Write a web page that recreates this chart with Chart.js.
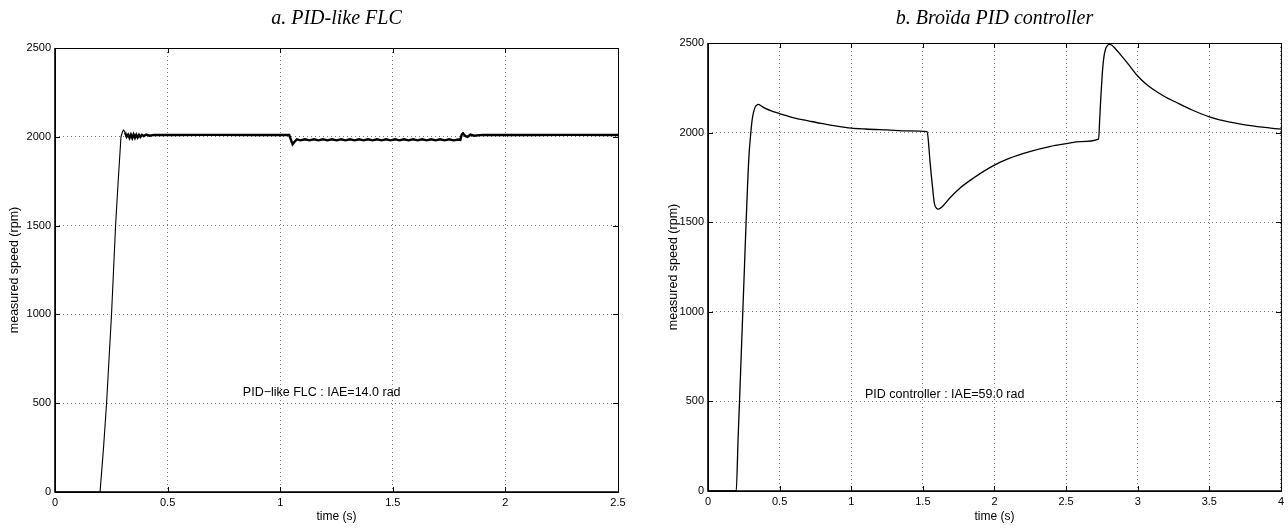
<!DOCTYPE html>
<html>
<head>
<meta charset="utf-8">
<script src="https://cdn.jsdelivr.net/npm/chart.js@4.4.1/dist/chart.umd.min.js"></script>
<style>
  html, body { margin: 0; padding: 0; background: #fff; }
  #chartA { position: absolute; left: 0; top: 0; }
  #chartB { position: absolute; left: 640px; top: 0; }
</style>
</head>
<body>
<canvas id="chartA" width="640" height="528"></canvas>
<canvas id="chartB" width="648" height="528"></canvas>
<script>
// a. PID-like FLC
const timeA = [0, 0.2, 0.215, 0.229, 0.24, 0.251, 0.26, 0.269, 0.281, 0.293, 0.3, 0.305, 0.311,
  0.318, 0.325, 0.331, 0.337, 0.343, 0.349, 0.355, 0.361, 0.367, 0.373, 0.379, 0.386, 0.394, 0.405,
  0.42, 0.44, 0.5, 0.7, 0.9, 1.04, 1.047, 1.055, 1.064, 1.074,
  1.09, 1.11, 1.13, 1.15, 1.17, 1.19, 1.21, 1.23, 1.25, 1.27, 1.29, 1.31, 1.33, 1.35, 1.37, 1.39,
  1.41, 1.43, 1.45, 1.47, 1.49, 1.51, 1.53, 1.55, 1.57, 1.59, 1.61, 1.63, 1.65, 1.67, 1.69, 1.71,
  1.73, 1.75, 1.77, 1.79,
  1.8, 1.806, 1.812, 1.822, 1.832, 1.845, 1.86, 1.9, 2.1, 2.3, 2.5];
const speedA = [0, 0, 240, 500, 750, 1000, 1250, 1500, 1760, 2000, 2030, 2038, 2025,
  2000, 2012, 1994, 2012, 1993, 2013, 1995, 2012, 1997, 2011, 1999, 2011, 2004, 2012,
  2006, 2011, 2010, 2011, 2010, 2010, 1985, 1958, 1972, 1986,
  1980, 1986, 1980, 1986, 1980, 1986, 1980, 1986, 1980, 1986, 1980, 1986, 1980, 1986, 1980, 1986,
  1980, 1986, 1980, 1986, 1980, 1986, 1980, 1986, 1980, 1986, 1980, 1986, 1980, 1986, 1980, 1986,
  1980, 1986, 1980, 1985,
  1983, 2012, 2020, 2004, 2000, 2012, 2006, 2011, 2010, 2011, 2010];

// b. Broida PID controller
const timeB = [0, 0.197, 0.21, 0.22, 0.232, 0.243, 0.255, 0.266, 0.276, 0.286, 0.299, 0.308, 0.317,
  0.327, 0.34, 0.352, 0.37, 0.4, 0.45, 0.5, 0.6, 0.7, 0.8, 0.9, 1.0, 1.1, 1.25, 1.4, 1.53,
  1.541, 1.549, 1.558, 1.567, 1.58, 1.595, 1.607, 1.625, 1.642, 1.688, 1.758, 1.851, 1.98, 2.106,
  2.246, 2.385, 2.5, 2.6, 2.727, 2.735, 2.743, 2.752, 2.762, 2.775, 2.788, 2.8, 2.815, 2.83, 2.855,
  2.89, 2.934, 3.0, 3.06, 3.12, 3.19, 3.26, 3.38, 3.5, 3.62, 3.75, 3.87, 4.0];
const speedB = [0, 0, 290, 500, 760, 1000, 1260, 1500, 1700, 1870, 2000, 2070, 2110,
  2138, 2153, 2158, 2150, 2135, 2119, 2106, 2082, 2066, 2050, 2036, 2025, 2020, 2015, 2010, 2006,
  1930, 1848, 1770, 1700, 1607, 1578, 1573, 1580, 1592, 1635, 1690, 1745, 1810, 1857,
  1894, 1922, 1938, 1950, 1964, 2080, 2203, 2320, 2410, 2465, 2485, 2492, 2490, 2480, 2458,
  2425, 2382, 2316, 2270, 2235, 2200, 2172, 2126, 2088, 2062, 2043, 2030, 2019];

const xTicksA = [0, 0.5, 1, 1.5, 2, 2.5];
const xLabelsA = ['0', '0.5', '1', '1.5', '2', '2.5'];
const xTicksB = [0, 0.5, 1, 1.5, 2, 2.5, 3, 3.5, 4];
const xLabelsB = ['0', '0.5', '1', '1.5', '2', '2.5', '3', '3.5', '4'];
const yTicks = [0, 500, 1000, 1500, 2000, 2500];
const yLabels = ['0', '500', '1000', '1500', '2000', '2500'];

const titleA = 'a. PID-like FLC';
const titleB = 'b. Bro\u00efda PID controller';
const noteA = 'PID\u2212like FLC : IAE=14.0 rad';
const noteB = 'PID controller : IAE=59.0 rad';

// frame, inner ticks, titles, note
const framePlugin = {
  id: 'frame',
  afterDraw(chart, args, opts) {
    const ctx = chart.ctx;
    const a = chart.chartArea;
    const x = chart.scales.x, y = chart.scales.y;
    ctx.save();
    ctx.strokeStyle = '#000';
    ctx.lineWidth = 1;
    ctx.beginPath();
    x.ticks.forEach(function (t) {
      const px = Math.round(x.getPixelForValue(t.value)) + 0.5;
      ctx.moveTo(px, a.top); ctx.lineTo(px, a.top + 5);
      ctx.moveTo(px, a.bottom); ctx.lineTo(px, a.bottom - 5);
    });
    y.ticks.forEach(function (t) {
      const py = Math.round(y.getPixelForValue(t.value)) + 0.5;
      ctx.moveTo(a.left, py); ctx.lineTo(a.left + 5, py);
      ctx.moveTo(a.right, py); ctx.lineTo(a.right - 5, py);
    });
    ctx.stroke();
    ctx.strokeRect(a.left + 0.5, a.top + 0.5, a.right - a.left, a.bottom - a.top);
    ctx.lineWidth = 1.6;
    ctx.beginPath();
    ctx.moveTo(a.left, a.top); ctx.lineTo(a.left, a.bottom); ctx.lineTo(a.right, a.bottom);
    ctx.stroke();

    ctx.fillStyle = '#000';
    ctx.font = 'italic 20px "Liberation Serif"';
    ctx.textAlign = 'center';
    ctx.textBaseline = 'middle';
    ctx.fillText(opts.title, (a.left + a.right) / 2, 19);

    ctx.font = '12.5px "Liberation Sans"';
    ctx.textAlign = 'left';
    ctx.fillText(opts.note, x.getPixelForValue(opts.noteAt[0]), y.getPixelForValue(opts.noteAt[1]));
    ctx.restore();
  }
};

function makeChart(id, times, speeds, xTicks, xLabels, xMax, box, opts, lineWidth, smooth) {
  const points = times.map(function (t, i) { return { x: t, y: speeds[i] }; });
  const ds = {
    data: points,
    borderColor: '#000',
    borderWidth: 1.2,
    pointRadius: 0,
    tension: 0,
    segment: { borderWidth: lineWidth }
  };
  if (smooth) ds.cubicInterpolationMode = 'monotone';
  return new Chart(document.getElementById(id), {
    type: 'line',
    data: { datasets: [ds] },
    options: {
      responsive: false,
      animation: false,
      events: [],
      layout: { padding: { top: box.top, right: box.right, left: 0, bottom: 0 } },
      plugins: {
        legend: { display: false },
        tooltip: { enabled: false },
        frame: opts
      },
      scales: {
        x: {
          type: 'linear',
          min: 0,
          max: xMax,
          afterBuildTicks: function (s) { s.ticks = xTicks.map(function (v) { return { value: v }; }); },
          afterFit: function (s) { s.height = box.xHeight; },
          grid: { color: '#777', lineWidth: 1, drawTicks: false },
          border: { display: false, dash: [1, 3] },
          ticks: {
            color: '#000', font: { family: 'Liberation Sans', size: 11 }, padding: 4, maxRotation: 0, autoSkip: false,
            callback: function (v, i) { return xLabels[i]; }
          },
          title: { display: true, text: 'time (s)', color: '#000', font: { family: 'Liberation Sans', size: 12 }, padding: { top: 0, bottom: 3.8 } }
        },
        y: {
          type: 'linear',
          min: 0,
          max: 2500,
          afterBuildTicks: function (s) { s.ticks = yTicks.map(function (v) { return { value: v }; }); },
          afterFit: function (s) { s.width = box.yWidth; },
          grid: { color: '#777', lineWidth: 1, drawTicks: false },
          border: { display: false, dash: [1, 3] },
          ticks: {
            color: '#000', font: { family: 'Liberation Sans', size: 11 }, padding: 4,
            callback: function (v, i) { return yLabels[i]; }
          },
          title: { display: true, text: 'measured speed (rpm)', color: '#000', font: { family: 'Liberation Sans', size: 12.5 }, padding: { top: box.yTitle, bottom: 0 } }
        }
      }
    },
    plugins: [framePlugin]
  });
}

makeChart('chartA', timeA, speedA, xTicksA, xLabelsA, 2.5,
  { top: 48, right: 22, xHeight: 36, yWidth: 55, yTitle: 7.5 },
  { title: titleA, note: noteA, noteAt: [0.834, 562] },
  function (c) { return c.p0.parsed.x > 0.31 ? 2.4 : 1.1; }, false);

makeChart('chartB', timeB, speedB, xTicksB, xLabelsB, 4,
  { top: 43, right: 7, xHeight: 37, yWidth: 68, yTitle: 26.5 },
  { title: titleB, note: noteB, noteAt: [1.096, 536] },
  function (c) { return 1.3; }, true);
</script>
</body>
</html>
